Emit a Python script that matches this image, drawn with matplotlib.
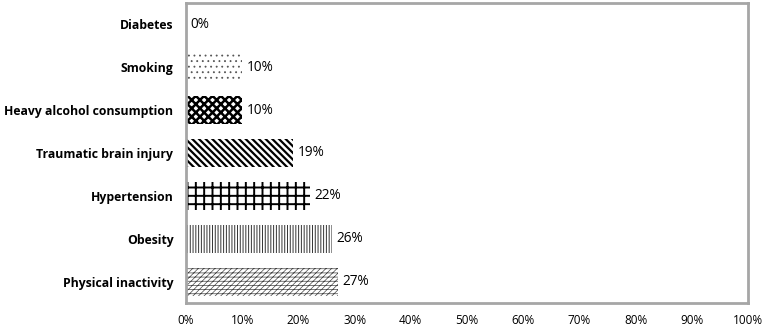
import numpy as np
import matplotlib.pyplot as plt

# categories top to bottom
categories = ["Diabetes", "Smoking", "Heavy alcohol consumption", "Traumatic brain injury",
              "Hypertension", "Obesity", "Physical inactivity"]
values = [0, 10, 10, 19, 22, 26, 27]
hatches = ["", "...", "xxxx", "\\\\\\\\\\", "++", "||||||", "----//////"]
hatch_lw = [1.0, 0.6, 1.8, 1.6, 1.4, 0.7, 0.5]
hatch_col = ["black", "#555555", "black", "black", "black", "#333333", "#444444"]
xticks = list(range(0, 101, 10))

plt.rcParams['font.family'] = ['Open Sans', 'DejaVu Sans']

fig = plt.figure(figsize=(7.67, 3.26), dpi=100)
ax = fig.add_axes([186 / 767, 23 / 326, 562 / 767, 300 / 326])

y = np.arange(len(categories))
for i, (v, h) in enumerate(zip(values, hatches)):
    with plt.rc_context({'hatch.linewidth': hatch_lw[i]}):
        ax.barh(y[i], v, height=0.65, color="white", edgecolor=hatch_col[i], hatch=h, linewidth=0)
    ax.text(v + 0.8, y[i], f"{v}%", va="center", ha="left", fontsize=9.8)

ax.set_xlim(0, 100)
ax.set_ylim(len(categories) - 0.5, -0.5)
ax.set_yticks(y)
ax.set_yticklabels(categories, fontsize=8.8, fontweight="bold")
ax.set_xticks(xticks)
ax.set_xticklabels([f"{t}%" for t in xticks], fontsize=8.5)
ax.tick_params(axis="x", length=0, pad=8)
ax.tick_params(axis="y", length=0, pad=9)
for s in ax.spines.values():
    s.set_color("#a6a6a6")
    s.set_linewidth(2)

fig.savefig("out.png", dpi=100)
